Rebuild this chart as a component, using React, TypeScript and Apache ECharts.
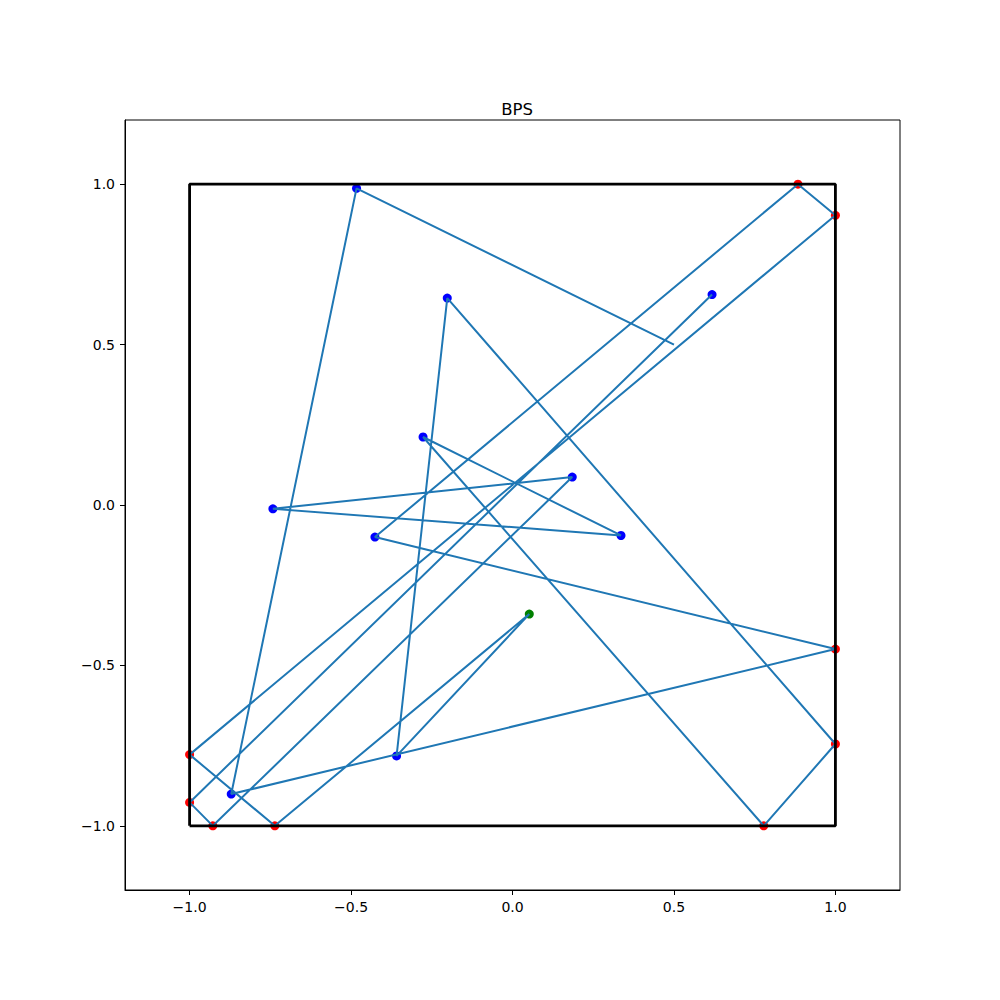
import React, { useEffect, useRef } from "react";
import * as echarts from "echarts";

const pathX = [0.5, -0.483, -0.871, 1.0, -0.426, 0.884, 1.0, -1.0, -0.736, 0.052, -0.359, -0.202, 1.0, 0.778, -0.277, 0.336, -0.742, 0.185, -0.928, -1.0, 0.618];
const pathY = [0.5, 0.987, -0.901, -0.449, -0.1, 1.0, 0.903, -0.778, -1.0, -0.34, -0.782, 0.645, -0.745, -1.0, 0.212, -0.095, -0.012, 0.087, -1.0, -0.927, 0.656];

const redX = [1.0, 0.884, 1.0, -1.0, -0.736, 1.0, 0.778, -0.928, -1.0];
const redY = [-0.449, 1.0, 0.903, -0.778, -1.0, -0.745, -1.0, -1.0, -0.927];

const blueX = [-0.483, -0.871, -0.426, -0.359, -0.202, -0.277, 0.336, -0.742, 0.185, 0.618];
const blueY = [0.987, -0.901, -0.1, -0.782, 0.645, 0.212, -0.095, -0.012, 0.087, 0.656];

const greenX = [0.052];
const greenY = [-0.34];

const boxX = [-1, 1, 1, -1, -1];
const boxY = [-1, -1, 1, 1, -1];

const tickValues = [-1.0, -0.5, 0.0, 0.5, 1.0];

const zip = (xs: number[], ys: number[]) => xs.map((x, i) => [x, ys[i]]);
const fmt = (v: number) => {
  const s = Math.abs(v).toFixed(1);
  return v < -1e-9 ? "\u2212" + s : s;
};

const FONT = "DejaVu Sans";

export default function App() {
  const ref = useRef<HTMLDivElement>(null);
  useEffect(() => {
    if (!ref.current) return;
    const chart = echarts.init(ref.current, undefined, { renderer: "svg" });
    const axisCommon = {
      type: "value" as const,
      min: -1.2,
      max: 1.2,
      splitLine: { show: false },
      axisLine: { show: true, onZero: false, lineStyle: { color: "#000", width: 1 } },
      axisTick: { show: true, customValues: tickValues, length: 5, lineStyle: { color: "#000", width: 1 } },
      axisLabel: {
        customValues: tickValues,
        formatter: (v: number) => fmt(v),
        color: "#000",
        fontSize: 14,
        fontFamily: FONT,
        margin: 10,
      },
    };
    chart.setOption({
      animation: false,
      backgroundColor: "#fff",
      title: {
        text: "BPS",
        left: 512,
        top: 96,
        textAlign: "center",
        textStyle: { fontSize: 16.5, fontWeight: "normal", fontFamily: FONT, color: "#000" },
      },
      grid: {
        left: 125,
        top: 120,
        width: 775,
        height: 770,
        show: true,
        borderColor: "#000",
        borderWidth: 1,
        backgroundColor: "transparent",
      },
      xAxis: { ...axisCommon },
      yAxis: { ...axisCommon },
      series: [
        {
          type: "scatter",
          data: zip(redX, redY),
          symbolSize: 9,
          itemStyle: { color: "#ff0000", opacity: 1 },
          z: 2,
        },
        {
          type: "scatter",
          data: zip(blueX, blueY),
          symbolSize: 9,
          itemStyle: { color: "#0000ff", opacity: 1 },
          z: 2,
        },
        {
          type: "scatter",
          data: zip(greenX, greenY),
          symbolSize: 9,
          itemStyle: { color: "#008000", opacity: 1 },
          z: 2,
        },
        {
          type: "line",
          data: zip(pathX, pathY),
          showSymbol: false,
          symbol: "none",
          lineStyle: { color: "#1f77b4", width: 2 },
          z: 3,
        },
        {
          type: "line",
          data: zip(boxX, boxY),
          showSymbol: false,
          symbol: "none",
          lineStyle: { color: "#000", width: 2.8 },
          z: 4,
        },
      ],
    });
    return () => chart.dispose();
  }, []);
  return (
    <div
      ref={ref}
      style={{ position: "absolute", left: 0, top: 0, width: 1000, height: 1000 }}
    />
  );
}
